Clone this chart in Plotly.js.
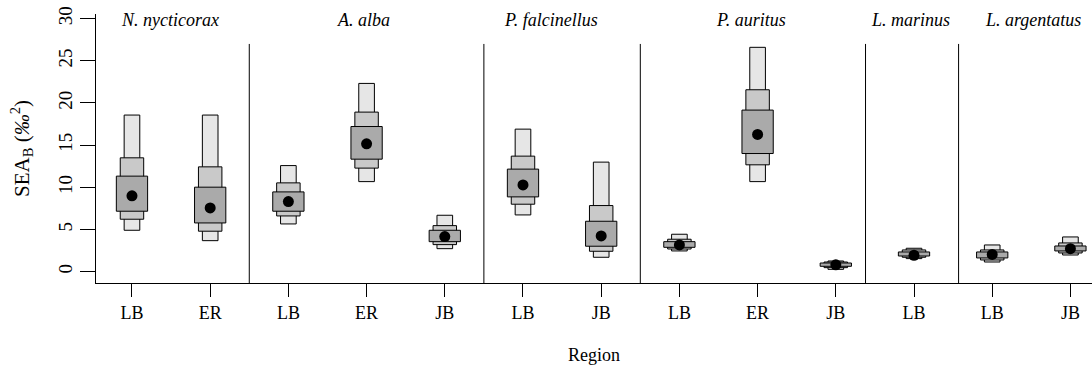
<!DOCTYPE html>
<html>
<head>
<meta charset="utf-8">
<script src="https://cdn.plot.ly/plotly-3.0.1.min.js"></script>
<style>html,body{margin:0;padding:0;background:#fff;}#chart{width:1092px;height:374px;}</style>
</head>
<body>
<div id="chart"></div>
<script>
// ---- data ----
const positions = [1, 2, 3, 4, 5, 6, 7, 8, 9, 10, 11, 12, 13];
const regions   = ["LB", "ER", "LB", "ER", "JB", "LB", "JB", "LB", "ER", "JB", "LB", "LB", "JB"];
const species   = ["N. nycticorax", "A. alba", "P. falcinellus", "P. auritus", "L. marinus", "L. argentatus"];
// 95% credible interval
const ci95Low  = [4.91, 3.68, 5.66, 10.68, 2.73, 6.73, 1.71, 2.46, 10.68, 0.28, 1.55, 1.15, 1.98];
const ci95High = [18.57, 18.57, 12.58, 22.32, 6.69, 16.90, 12.99, 4.44, 26.60, 1.27, 2.78, 3.17, 4.12];
// 75% credible interval
const ci75Low  = [6.22, 4.80, 6.61, 12.28, 3.21, 8.00, 2.42, 2.69, 12.67, 0.48, 1.71, 1.39, 2.22];
const ci75High = [13.50, 12.43, 10.53, 18.92, 5.46, 13.70, 7.84, 3.85, 21.57, 1.15, 2.58, 2.58, 3.41];
// 50% credible interval
const ci50Low  = [7.17, 5.78, 7.17, 13.34, 3.56, 8.87, 3.02, 2.89, 14.01, 0.64, 1.86, 1.63, 2.46];
const ci50High = [11.33, 10.02, 9.46, 17.21, 4.91, 12.16, 5.98, 3.56, 19.16, 1.03, 2.34, 2.34, 3.05];
// posterior mode
const modeVal  = [8.99, 7.56, 8.31, 15.16, 4.16, 10.29, 4.24, 3.17, 16.27, 0.82, 1.95, 2.05, 2.73];

// ---- layout helpers ----
const speciesX  = [1.49, 3.96, 6.36, 8.91, 10.95, 12.52];
const dividerX  = [2.5, 5.5, 7.5, 10.38, 11.57];
const FONT = "Liberation Serif, Times New Roman, serif";

function band(lo, hi, width, color, name) {
  return {
    type: "bar", x: positions, base: lo,
    y: hi.map((h, i) => h - lo[i]),
    width: width, name: name,
    marker: {color: color, line: {color: "#000", width: 1}},
    hoverinfo: "skip", showlegend: false
  };
}

const traces = [
  band(ci95Low, ci95High, 0.2, "#e6e6e6", "95%"),
  band(ci75Low, ci75High, 0.3, "#c9c9c9", "75%"),
  band(ci50Low, ci50High, 0.4, "#aaaaaa", "50%"),
  {type: "scatter", mode: "markers", x: positions, y: modeVal,
   marker: {color: "#000", size: 11}, showlegend: false, hoverinfo: "skip"}
];

const shapes = dividerX.map(x => ({
  type: "line", xref: "x", yref: "y", x0: x, x1: x, y0: 27, y1: -1.34,
  line: {color: "#000", width: 1}
}));

const annotations = species.map((s, i) => ({
  xref: "x", yref: "y", x: speciesX[i], y: 29.8,
  text: "<i>" + s + "</i>", showarrow: false,
  font: {family: FONT, size: 18, color: "#000"},
  xanchor: "center", yanchor: "middle"
}));

const layout = {
  width: 1092, height: 374,
  margin: {l: 96, r: 0, t: 14, b: 91},
  paper_bgcolor: "#fff", plot_bgcolor: "#fff",
  barmode: "overlay", bargap: 0,
  font: {family: FONT, size: 18, color: "#000"},
  showlegend: false,
  xaxis: {
    range: [0.54, 13.276], tickmode: "array", tickvals: positions, ticktext: regions,
    showline: true, linecolor: "#000", linewidth: 1, mirror: false,
    ticks: "outside", ticklen: 13, tickcolor: "#000", tickwidth: 1,
    showgrid: false, zeroline: false, ticklabelstandoff: 0,
    tickfont: {family: FONT, size: 18},
    title: {text: "Region", font: {family: FONT, size: 18}, standoff: 26}
  },
  yaxis: {
    range: [-1.34, 30.55], tickmode: "array", tickvals: [0, 5, 10, 15, 20, 25, 30],
    showline: true, linecolor: "#000", linewidth: 1,
    ticks: "outside", ticklen: 15, tickcolor: "#000", tickwidth: 1, tickangle: -90,
    showgrid: false, zeroline: false,
    tickfont: {family: FONT, size: 19},
    title: {text: "SEA<sub>B</sub> (<i>‰</i><sup>2</sup>)", font: {family: FONT, size: 21}, standoff: 20}
  },
  shapes: shapes,
  annotations: annotations
};

Plotly.newPlot("chart", traces, layout, {staticPlot: true, displayModeBar: false});
</script>
</body>
</html>
